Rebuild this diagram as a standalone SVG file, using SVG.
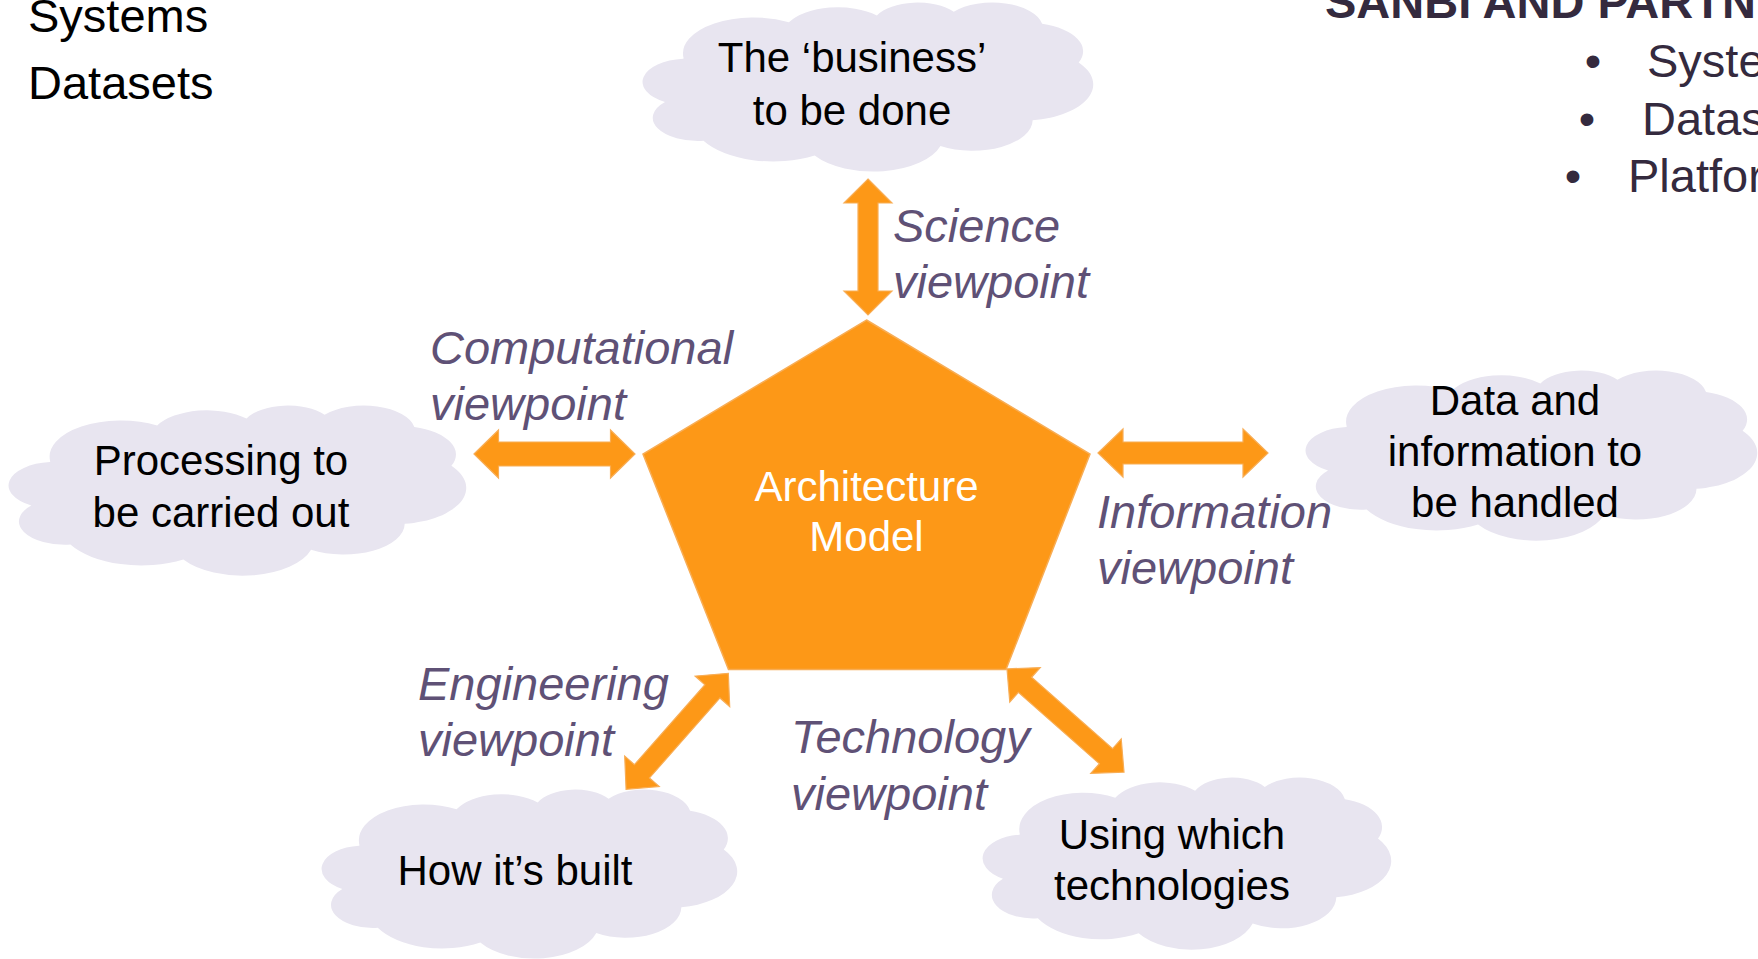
<svg xmlns="http://www.w3.org/2000/svg" width="1758" height="959" viewBox="0 0 1758 959">
<style>
.cloud{fill:#e8e5f0}
.ctext{font-family:"Liberation Sans",Arial,sans-serif;font-size:42px;fill:#000;text-anchor:middle}
.vp{font-family:"Liberation Sans",Arial,sans-serif;font-size:47px;font-style:italic;fill:#5f5176}
.arrow{fill:#fd9817;stroke:#f8ad55;stroke-width:1.2;stroke-linejoin:miter}
.hdr{font-family:"Liberation Sans",Arial,sans-serif;font-size:47px;fill:#000}
.rt{font-family:"Liberation Sans",Arial,sans-serif;font-size:47px;fill:#342a3e}
</style>
<defs>
<path id="cloudShape" d="M 90.3 332.6 A 156.3 212.7 0 0 1 324.2 120.4 A 123.4 168.2 0 0 1 519.8 79.5 A 101.0 137.6 0 0 1 690.6 57.5 A 112.4 152.7 0 0 1 887.0 129.1 A 123.4 168.4 0 0 1 968.1 357.9 A 156.8 213.4 0 0 1 865.9 699.1 A 133.9 182.1 0 0 1 661.0 852.1 A 156.3 213.3 0 0 1 381.5 908.9 A 178.7 244.1 0 0 1 134.4 821.1 A 100.9 137.0 0 0 1 48.9 591.5 A 100.6 137.6 0 0 1 89.4 335.8 Z"/>
</defs>
<rect width="1758" height="959" fill="#fff"/>

<g id="header-left">
<text class="hdr" x="28" y="32">Systems</text>
<text class="hdr" x="28" y="99">Datasets</text>
</g>
<g id="header-right">
<text class="rt" x="1325" y="18" font-size="46" font-weight="bold">SANBI AND PARTN</text>
<text class="rt" x="1593" y="77" text-anchor="middle">•</text>
<text class="rt" x="1647" y="77">Syste</text>
<text class="rt" x="1587" y="135" text-anchor="middle">•</text>
<text class="rt" x="1642" y="135">Datas</text>
<text class="rt" x="1573" y="192" text-anchor="middle">•</text>
<text class="rt" x="1628" y="192">Platfor</text>
</g>

<g id="connectors">
<path class="arrow" transform="translate(868,247) rotate(90)" d="M -68 0 L -44 -24 L -44 -10 L 44 -10 L 44 -24 L 68 0 L 44 24 L 44 10 L -44 10 L -44 24 Z"/>
<path class="arrow" transform="translate(554.5,454)" d="M -80.5 0 L -56 -24 L -56 -12 L 56 -12 L 56 -24 L 80.5 0 L 56 24 L 56 12 L -56 12 L -56 24 Z"/>
<path class="arrow" transform="translate(1183,453)" d="M -85 0 L -60 -24 L -60 -11 L 60 -11 L 60 -24 L 85 0 L 60 24 L 60 11 L -60 11 L -60 24 Z"/>
<path class="arrow" transform="translate(677.2,731.3) rotate(131.4)" d="M -77.3 0 L -53.3 -23 L -53.3 -10 L 53.3 -10 L 53.3 -23 L 77.3 0 L 53.3 23 L 53.3 10 L -53.3 10 L -53.3 23 Z"/>
<path class="arrow" transform="translate(1065.5,720.5) rotate(41.4)" d="M -78 0 L -54 -23 L -54 -10 L 54 -10 L 54 -23 L 78 0 L 54 23 L 54 10 L -54 10 L -54 23 Z"/>
<text class="vp" x="893" y="242">Science</text>
<text class="vp" x="893" y="298">viewpoint</text>
<text class="vp" x="430" y="364">Computational</text>
<text class="vp" x="430" y="420">viewpoint</text>
<text class="vp" x="1097" y="528">Information</text>
<text class="vp" x="1097" y="584">viewpoint</text>
<text class="vp" x="418" y="700">Engineering</text>
<text class="vp" x="418" y="756">viewpoint</text>
<text class="vp" x="791" y="753">Technology</text>
<text class="vp" x="791" y="810">viewpoint</text>
</g>

<g id="node-architecture">
<polygon points="866.5,320 1090,454 1006,669.5 728.5,669.5 643,454" fill="#fd9817" stroke="#f8ad55" stroke-width="1.5"/>
<text class="ctext" x="866.5" y="501" fill="#fff" style="fill:#fff">Architecture</text>
<text class="ctext" x="866.5" y="551" style="fill:#fff">Model</text>
</g>

<g id="node-business">
<use href="#cloudShape" class="cloud" transform="translate(643,2) scale(0.450,0.169)"/>
<text class="ctext" x="852" y="72">The ‘business’</text>
<text class="ctext" x="852" y="125">to be done</text>
</g>

<g id="node-processing">
<use href="#cloudShape" class="cloud" transform="translate(9,405) scale(0.457,0.170)"/>
<text class="ctext" x="221" y="475">Processing to</text>
<text class="ctext" x="221" y="527">be carried out</text>
</g>

<g id="node-data">
<use href="#cloudShape" class="cloud" transform="translate(1306,370) scale(0.451,0.170)"/>
<text class="ctext" x="1515" y="415">Data and</text>
<text class="ctext" x="1515" y="466">information to</text>
<text class="ctext" x="1515" y="517">be handled</text>
</g>

<g id="node-built">
<use href="#cloudShape" class="cloud" transform="translate(322,789) scale(0.415,0.169)"/>
<text class="ctext" x="515" y="885">How it’s built</text>
</g>

<g id="node-tech">
<use href="#cloudShape" class="cloud" transform="translate(983,777) scale(0.408,0.172)"/>
<text class="ctext" x="1172" y="849">Using which</text>
<text class="ctext" x="1172" y="900">technologies</text>
</g>
</svg>
